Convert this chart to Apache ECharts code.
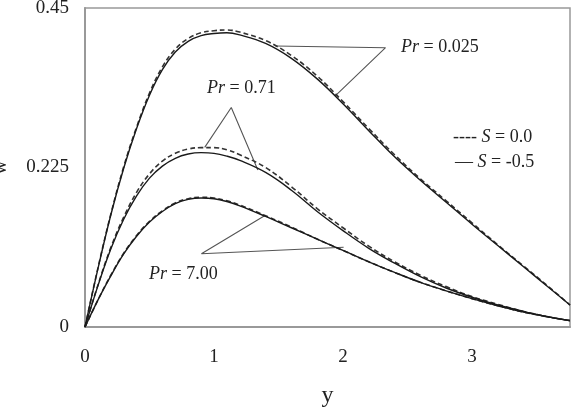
<!DOCTYPE html>
<html>
<head>
<meta charset="utf-8">
<script src="https://cdn.jsdelivr.net/npm/echarts@6/dist/echarts.min.js"></script>
<style>
    html, body { margin: 0; padding: 0; background: #fff; }
    #main { width: 577px; height: 408px; }
</style>
</head>
<body>
<div id="main"></div>
<script>
// x 方向取样点
const xs = [0, 0.1, 0.2, 0.3, 0.4, 0.5, 0.6, 0.7, 0.8, 0.9, 1.0, 1.1, 1.2, 1.4, 1.6, 1.8, 2.0, 2.2, 2.4, 2.6, 2.8, 3.0, 3.2, 3.4, 3.6, 3.76]

// Pr = 0.025
const pr0025S0 = [0, 0.083, 0.159, 0.226, 0.282, 0.33, 0.367, 0.392, 0.407, 0.415, 0.418, 0.419, 0.416, 0.404, 0.383, 0.354, 0.318, 0.28, 0.243, 0.209, 0.178, 0.147, 0.116, 0.086, 0.056, 0.031]
const pr0025S05 = [0, 0.082, 0.158, 0.224, 0.28, 0.327, 0.363, 0.388, 0.403, 0.411, 0.414, 0.415, 0.412, 0.4, 0.379, 0.35, 0.315, 0.277, 0.24, 0.207, 0.176, 0.145, 0.115, 0.085, 0.055, 0.031]
// Pr = 0.71
const pr071S0 = [0, 0.059, 0.112, 0.155, 0.19, 0.216, 0.234, 0.245, 0.251, 0.253, 0.253, 0.25, 0.243, 0.225, 0.198, 0.167, 0.14, 0.114, 0.092, 0.073, 0.057, 0.043, 0.032, 0.022, 0.014, 0.009]
const pr071S05 = [0, 0.058, 0.11, 0.152, 0.185, 0.21, 0.227, 0.238, 0.244, 0.246, 0.245, 0.241, 0.235, 0.218, 0.193, 0.163, 0.136, 0.111, 0.09, 0.071, 0.055, 0.042, 0.031, 0.022, 0.014, 0.009]
// Pr = 7.00
const pr7S0 = [0, 0.038, 0.073, 0.104, 0.129, 0.149, 0.164, 0.175, 0.181, 0.183, 0.182, 0.178, 0.172, 0.157, 0.141, 0.124, 0.108, 0.092, 0.077, 0.063, 0.051, 0.04, 0.03, 0.021, 0.014, 0.009]
const pr7S05 = [0, 0.038, 0.072, 0.103, 0.128, 0.148, 0.163, 0.174, 0.18, 0.182, 0.181, 0.177, 0.171, 0.156, 0.14, 0.124, 0.108, 0.092, 0.077, 0.063, 0.051, 0.04, 0.03, 0.021, 0.014, 0.009]

// 标注引线 (数据坐标)
const leader0025 = [[1.477, 0.3965], [2.33, 0.394], [1.94, 0.326]]
const leader071 = [[0.928, 0.2534], [1.134, 0.3097], [1.34, 0.2216]]
const leader7 = [[1.392, 0.157], [0.9025, 0.1033], [2.005, 0.1126]]

const yTicks = [0, 0.225, 0.45]

const FONT = '"Liberation Serif", "DejaVu Serif", serif'

function pairs(vals) {
    return xs.map((x, i) => [x, vals[i]])
}

function curve(vals, dashed) {
    return {
        type: 'line',
        data: pairs(vals),
        smooth: 0.4,
        showSymbol: false,
        silent: true,
        z: dashed ? 2 : 3,
        lineStyle: {
            color: dashed ? '#333' : '#1a1a1a',
            width: dashed ? 1.6 : 1.4,
            type: dashed ? [5, 3] : 'solid'
        }
    }
}

function leader(pts) {
    return {
        type: 'line',
        data: pts,
        showSymbol: false,
        silent: true,
        z: 1,
        lineStyle: { color: '#555', width: 1.1 }
    }
}

function label(text, left, top) {
    const parts = text.split('|')
    return {
        type: 'text',
        left: left,
        top: top,
        style: {
            text: parts.map((p, i) => i % 2 === 1 ? `{i|${p}}` : `{n|${p}}`).join(''),
            rich: {
                n: { fontFamily: FONT, fontSize: 18, fill: '#222' },
                i: { fontFamily: FONT, fontSize: 18, fontStyle: 'italic', fill: '#222' }
            }
        }
    }
}

function initChart() {
    const myChart = echarts.init(document.querySelector('#main'), null, { renderer: 'canvas' })
    const option = {
        backgroundColor: '#fff',
        animation: false,
        grid: {
            left: 85,
            right: 7,
            top: 8,
            bottom: 81,
            containLabel: false,
            outerBoundsMode: 'none',
            show: true,
            borderColor: '#999',
            borderWidth: 1.5
        },
        xAxis: {
            type: 'value',
            min: 0,
            max: 3.76,
            interval: 1,
            name: 'y',
            nameLocation: 'middle',
            nameGap: 57,
            nameTextStyle: { fontFamily: FONT, fontSize: 24, color: '#222' },
            axisLine: { show: true, lineStyle: { color: '#999', width: 2 } },
            axisTick: { show: false },
            splitLine: { show: false },
            axisLabel: {
                margin: 21,
                fontFamily: FONT,
                fontSize: 19,
                color: '#222',
                showMaxLabel: false,
                formatter: v => Number.isInteger(v) ? String(v) : ''
            }
        },
        yAxis: {
            type: 'value',
            min: yTicks[0],
            max: yTicks[2],
            interval: yTicks[1],
            name: 'w',
            nameLocation: 'middle',
            nameRotate: 90,
            nameGap: 74,
            nameTextStyle: { fontFamily: FONT, fontSize: 20, color: '#222' },
            axisLine: { show: true, lineStyle: { color: '#999', width: 2 } },
            axisTick: { show: false },
            splitLine: { show: false },
            axisLabel: {
                margin: 16,
                fontFamily: FONT,
                fontSize: 19,
                color: '#222',
                formatter: v => String(v)
            }
        },
        series: [
            leader(leader0025),
            leader(leader071),
            leader(leader7),
            curve(pr0025S0, true),
            curve(pr071S0, true),
            curve(pr7S0, true),
            curve(pr0025S05, false),
            curve(pr071S05, false),
            curve(pr7S05, false)
        ],
        graphic: [
            label('|Pr| = 0.025', 401, 38),
            label('|Pr| = 0.71', 207, 79),
            label('|Pr| = 7.00', 149, 265),
            label('---- |S| = 0.0', 453, 128),
            label('— |S| = -0.5', 455, 153)
        ]
    }
    myChart.setOption(option)
}

initChart()
</script>
</body>
</html>
